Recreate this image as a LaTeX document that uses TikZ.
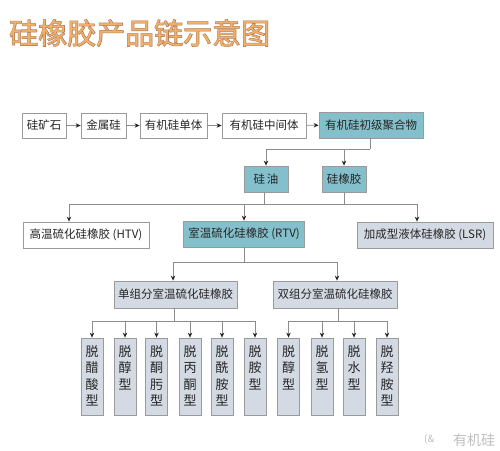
\documentclass[tikz,border=0pt]{standalone}
\usepackage{fontspec}
\newfontfamily\cjk{Noto Sans CJK SC}
\newfontfamily\cjktitle{Noto Sans CJK SC}
\newfontfamily\cjktitleback[FakeBold=3]{Noto Sans CJK SC}
\usetikzlibrary{arrows.meta}
\definecolor{boxline}{HTML}{9A9A9A}
\definecolor{teal}{HTML}{84C0CB}
\definecolor{pale}{HTML}{D3DAE3}
\definecolor{conn}{HTML}{8C8C8C}
\definecolor{titlec}{HTML}{F2B068}
\definecolor{titleo}{HTML}{A8785A}
\tikzset{
  box/.style={draw=boxline, line width=0.8pt, inner sep=0pt, font=\cjk\fontsize{11.5}{11.5}\selectfont, text=black!85},
  wbox/.style={box, fill=white},
  tbox/.style={box, fill=teal},
  pbox/.style={box, fill=pale},
  vbox/.style={draw=boxline, line width=0.8pt, fill=pale, minimum width=22pt, minimum height=77pt, inner sep=0pt},
  vtext/.style={font=\cjk\fontsize{13}{16.5}\selectfont, text=black!85, align=center, anchor=north, inner sep=0pt},
  conn/.style={draw=conn, line width=0.7pt},
  arr/.style={conn, -{Stealth[length=5pt,width=4.5pt,color=black!85]}}
}
\begin{document}
\begin{tikzpicture}[x=1pt,y=-1pt]
\useasboundingbox (0,0) rectangle (500,450);
\fill[white] (0,0) rectangle (500,450);
% title (outlined look)
\node[font=\cjktitleback\fontsize{29}{29}\selectfont, text=titleo, anchor=west, inner sep=0pt] (titleb) at (9,33) {硅橡胶产品链示意图};
\node[font=\cjktitle\fontsize{29}{29}\selectfont, text=titlec, anchor=west, inner sep=0pt] (title) at (9,33) {硅橡胶产品链示意图};
% row 1
\node[wbox, minimum width=44pt, minimum height=25pt] (a1) at (44,125.5) {硅矿石};
\node[wbox, minimum width=45pt, minimum height=25pt] (a2) at (103.5,125.5) {金属硅};
\node[wbox, minimum width=67pt, minimum height=25pt] (a3) at (173.5,125.5) {有机硅单体};
\node[wbox, minimum width=84pt, minimum height=25pt] (a4) at (264,125.5) {有机硅中间体};
\node[tbox, minimum width=104pt, minimum height=26pt] (a5) at (371,125) {有机硅初级聚合物};
\draw[arr] (a1) -- (a2);
\draw[arr] (a2) -- (a3);
\draw[arr] (a3) -- (a4);
\draw[arr] (a4) -- (a5);
% row 2
\node[tbox, minimum width=44pt, minimum height=26pt] (b1) at (266,179) {硅\,油};
\node[tbox, minimum width=44pt, minimum height=26pt] (b2) at (344,179) {硅橡胶};
\coordinate (j1) at (370,149);
\draw[conn] (a5.south -| j1) -- (j1);
\draw[arr] (j1) -| (b1.north);
\draw[arr] (j1) -| (b2.north);
% row 3
\node[wbox, minimum width=126pt, minimum height=26pt] (c1) at (86,235) {高温硫化硅橡胶 (HTV)};
\node[tbox, minimum width=121pt, minimum height=26pt] (c2) at (244,234) {室温硫化硅橡胶 (RTV)};
\node[pbox, minimum width=136pt, minimum height=26pt] (c3) at (425,235) {加成型液体硅橡胶 (LSR)};
\coordinate (j2a) at (264,204);
\coordinate (j2b) at (344,204);
\coordinate (j2l) at (69,204);
\coordinate (j2r) at (417,204);
\draw[conn] (b1.south -| j2a) -- (j2a);
\draw[conn] (b2.south) -- (j2b);
\draw[conn] (j2l) -- (j2r);
\draw[arr] (j2l) -- (j2l |- c1.north);
\draw[arr] (j2a -| c2.north) -- (c2.north);
\draw[arr] (j2r) -- (j2r |- c3.north);
% row 4
\node[pbox, minimum width=123pt, minimum height=27pt] (d1) at (175.5,294.5) {单组分室温硫化硅橡胶};
\node[pbox, minimum width=124pt, minimum height=27pt] (d2) at (335,294.5) {双组分室温硫化硅橡胶};
\coordinate (j3) at (244,262);
\draw[conn] (c2.south) -- (j3);
\coordinate (j3l) at (173,262);
\coordinate (j3r) at (337,262);
\draw[conn] (j3l) -- (j3r);
\draw[arr] (j3l) -- (j3l |- d1.north);
\draw[arr] (j3r) -- (j3r |- d2.north);
% row 5 boxes
\foreach \n/\x/\t in {e1/92/脱\\醋\\酸\\型, e2/125/脱\\醇\\型, e3/156.5/脱\\酮\\肟\\型, e4/190/脱\\丙\\酮\\型, e5/222/脱\\酰\\胺\\型, e6/255/脱\\胺\\型, f1/288.5/脱\\醇\\型, f2/322/脱\\氢\\型, f3/354/脱\\水\\型, f4/387/脱\\羟\\胺\\型}{
  \node[vbox] (\n) at (\x,376.5) {};
  \node[vtext] (\n t) at (\x,345) {\t};
}
\coordinate (j4) at (174,321);
\draw[conn] (d1.south -| j4) -- (j4);
\draw[conn] (e1.north |- j4) -- (e6.north |- j4);
\foreach \n in {e1,e2,e3,e4,e5,e6}{
  \draw[arr] (\n.north |- j4) -- (\n.north);
}
\coordinate (j5) at (338,321);
\draw[conn] (d2.south -| j5) -- (j5);
\draw[conn] (f1.north |- j5) -- (f4.north |- j5);
\foreach \n in {f1,f2,f3,f4}{
  \draw[arr] (\n.north |- j5) -- (\n.north);
}
% watermark
\node[font=\cjk\fontsize{14}{14}\selectfont, text=black!25, anchor=west, inner sep=0pt] (wm) at (453,440) {有机硅};
\node[font=\cjk\fontsize{10}{10}\selectfont, text=black!25, anchor=west, inner sep=0pt] (wm2) at (424,439) {(\&};
\end{tikzpicture}
\end{document}
